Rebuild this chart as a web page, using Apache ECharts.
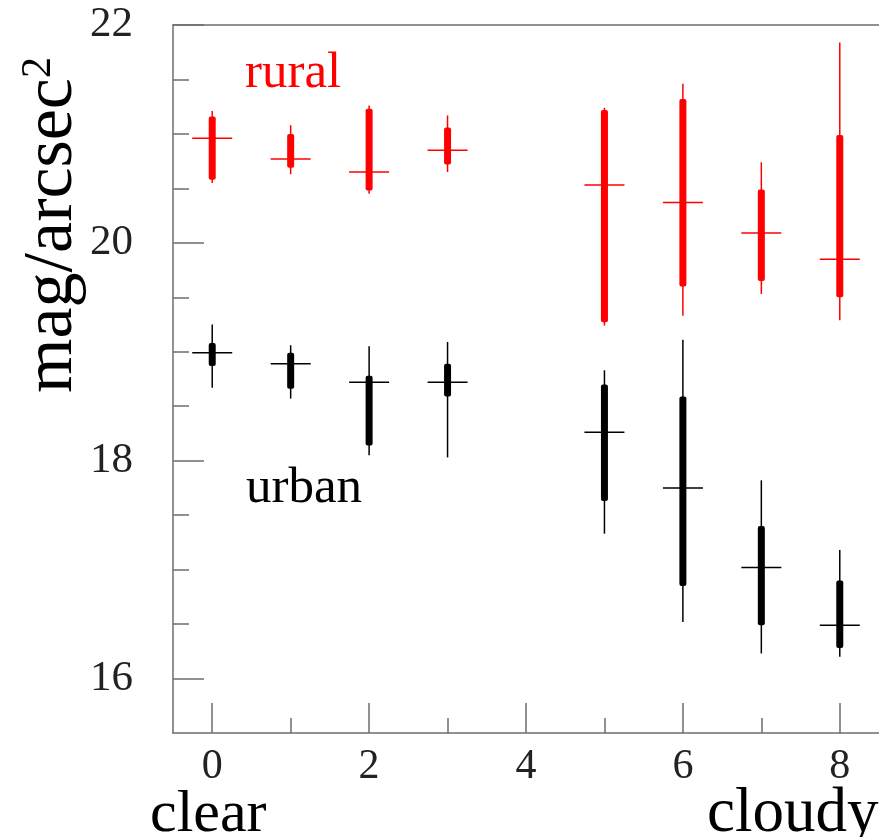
<!DOCTYPE html>
<html>
<head>
<meta charset="utf-8">
<script src="https://cdn.jsdelivr.net/npm/echarts@6/dist/echarts.min.js"></script>
<style>
  html, body { margin: 0; padding: 0; background: #fff; }
  #chart { width: 879px; height: 837px; }
</style>
</head>
<body>
<div id="chart"></div>
<script>
// cloud cover (oktas), 4 has no data
const cover = [0, 1, 2, 3, 5, 6, 7, 8];

// rural sky brightness, mag/arcsec^2
const ruralLow  = [20.55, 20.63, 20.45, 20.65, 19.24, 19.33, 19.53, 19.29];
const ruralQ1   = [20.58, 20.69, 20.48, 20.72, 19.27, 19.60, 19.65, 19.50];
const ruralMed  = [20.96, 20.77, 20.65, 20.85, 20.53, 20.37, 20.09, 19.85];
const ruralQ3   = [21.16, 21.00, 21.23, 21.06, 21.22, 21.32, 20.49, 20.99];
const ruralHigh = [21.21, 21.08, 21.26, 21.17, 21.24, 21.46, 20.74, 21.84];

// urban sky brightness
const urbanLow  = [18.67, 18.57, 18.05, 18.03, 17.33, 16.52, 16.23, 16.20];
const urbanQ1   = [18.87, 18.66, 18.14, 18.59, 17.63, 16.85, 16.49, 16.28];
const urbanMed  = [18.99, 18.89, 18.72, 18.72, 18.26, 17.75, 17.02, 16.49];
const urbanQ3   = [19.08, 18.99, 18.78, 18.89, 18.70, 18.59, 17.40, 16.90];
const urbanHigh = [19.25, 19.06, 19.05, 19.09, 18.83, 19.11, 17.82, 17.18];

// tick positions
const xMajor = [0, 2, 4, 6, 8];
const xMinor = [1, 3, 5, 7];
const yMajor = [16, 18, 20, 22];
const yMinor = [16.5, 17, 17.5, 18.5, 19, 19.5, 20.5, 21, 21.5];

const serif = 'Liberation Serif';
const axisGray = '#6e6e6e';

function rows(lo, q1, md, q3, hi) {
  return cover.map((x, i) => [x, lo[i], q1[i], md[i], q3[i], hi[i]]);
}

// whisker + thick box + wide median tick
function renderBox(params, api) {
  const x = api.value(0);
  const lo = api.coord([x, api.value(1)]);
  const q1 = api.coord([x, api.value(2)]);
  const md = api.coord([x, api.value(3)]);
  const q3 = api.coord([x, api.value(4)]);
  const hi = api.coord([x, api.value(5)]);
  const color = api.visual('color');
  return {
    type: 'group',
    children: [
      { type: 'line', shape: { x1: lo[0], y1: lo[1], x2: hi[0], y2: hi[1] },
        style: { stroke: color, lineWidth: 1.5 } },
      { type: 'rect', shape: { x: q3[0] - 3.5, y: q3[1], width: 7, height: q1[1] - q3[1], r: 2 },
        style: { fill: color } },
      { type: 'line', shape: { x1: md[0] - 20, y1: md[1], x2: md[0] + 20, y2: md[1] },
        style: { stroke: color, lineWidth: 1.5 } }
    ]
  };
}

const chart = echarts.init(document.getElementById('chart'));

const gray = { color: axisGray, width: 1.5 };
const xBase = { type: 'value', min: -0.5, max: 8.5, splitLine: { show: false } };
const yBase = { type: 'value', min: 15.5, max: 22, splitLine: { show: false } };

chart.setOption({
  animation: false,
  backgroundColor: '#fff',
  grid: { left: 173, top: 25, right: 0, bottom: 104 },
  xAxis: [
    Object.assign({}, xBase, {
      position: 'bottom',
      axisLine: { show: true, onZero: false, lineStyle: gray },
      axisTick: { inside: true, length: 30, customValues: xMajor, lineStyle: gray },
      axisLabel: { customValues: xMajor, margin: 13, fontFamily: serif, fontSize: 42, color: '#222' }
    }),
    Object.assign({}, xBase, {
      position: 'bottom',
      axisLine: { show: false, onZero: false },
      axisTick: { inside: true, length: 15, customValues: xMinor, lineStyle: gray },
      axisLabel: { show: false }
    }),
    // top frame line
    Object.assign({}, xBase, {
      position: 'top',
      axisLine: { show: true, onZero: false, lineStyle: gray },
      axisTick: { show: false },
      axisLabel: { show: false }
    })
  ],
  yAxis: [
    Object.assign({}, yBase, {
      position: 'left',
      axisLine: { show: true, onZero: false, lineStyle: gray },
      axisTick: { inside: true, length: 31, customValues: yMajor, lineStyle: gray },
      axisLabel: { customValues: yMajor, margin: 40, fontFamily: serif, fontSize: 43, color: '#222' }
    }),
    Object.assign({}, yBase, {
      position: 'left',
      axisLine: { show: false, onZero: false },
      axisTick: { inside: true, length: 16, customValues: yMinor, lineStyle: gray },
      axisLabel: { show: false }
    })
  ],
  graphic: [
    { type: 'text', left: 150, top: 785,
      style: { text: 'clear', fontFamily: serif, fontSize: 60, fill: '#000' } },
    { type: 'text', left: 707, top: 783,
      style: { text: 'cloudy', fontFamily: serif, fontSize: 63, fill: '#000' } },
    { type: 'text', left: 245, top: 48,
      style: { text: 'rural', fontFamily: serif, fontSize: 51, fill: '#ff0000' } },
    { type: 'text', left: 246, top: 463,
      style: { text: 'urban', fontFamily: serif, fontSize: 51, fill: '#000' } },
    { type: 'text', x: 53, y: 225, rotation: Math.PI / 2,
      style: {
        text: '{m|mag/arcsec}{s|2}', align: 'center', verticalAlign: 'middle',
        rich: {
          m: { fontFamily: serif, fontSize: 70, fill: '#000' },
          s: { fontFamily: serif, fontSize: 42, fill: '#000', verticalAlign: 'top' }
        }
      } }
  ],
  series: [
    { name: 'rural', type: 'custom', xAxisIndex: 0, yAxisIndex: 0, color: '#ff0000',
      renderItem: renderBox, data: rows(ruralLow, ruralQ1, ruralMed, ruralQ3, ruralHigh) },
    { name: 'urban', type: 'custom', xAxisIndex: 0, yAxisIndex: 0, color: '#000000',
      renderItem: renderBox, data: rows(urbanLow, urbanQ1, urbanMed, urbanQ3, urbanHigh) }
  ]
});
</script>
</body>
</html>
